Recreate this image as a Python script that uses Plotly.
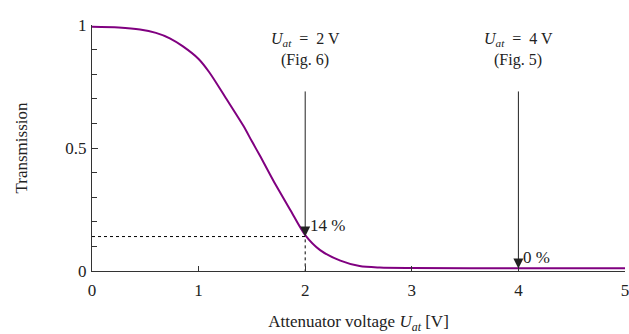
import plotly.graph_objects as go

# Data
u_vals = [0.0, 0.25, 0.45, 0.6, 0.73, 0.85, 1.0, 1.1, 1.26, 1.42, 1.5, 1.58, 1.67, 1.75,
          1.86, 2.0, 2.14, 2.33, 2.51, 2.7, 3.0, 4.0, 5.0]
t_vals = [0.993, 0.99, 0.982, 0.968, 0.946, 0.914, 0.862, 0.808, 0.7, 0.59, 0.527, 0.465,
          0.392, 0.33, 0.248, 0.146, 0.085, 0.042, 0.02, 0.014, 0.012, 0.011, 0.011]

marker_u = [2, 4]
marker_t = [0.14, 0.01]
marker_pct = ["14 %", "0 %"]
marker_fig = ["(Fig. 6)", "(Fig. 5)"]
arrow_start = 0.736
label_y1 = 0.94
label_y2 = 0.858

FONT = "Liberation Serif"
FS = 17
AX = "#333333"
TXT = "#222222"

fig = go.Figure()
fig.add_trace(go.Scatter(x=u_vals, y=t_vals, mode="lines",
                         line=dict(color="#800080", width=2, shape="spline", smoothing=0.8),
                         hoverinfo="skip", showlegend=False))

# dotted guide lines for 2 V
fig.add_trace(go.Scatter(x=[0, marker_u[0], marker_u[0]], y=[marker_t[0], marker_t[0], 0],
                         mode="lines", line=dict(color="black", width=1, dash="dot"),
                         showlegend=False, hoverinfo="skip"))

for u, t, pct, figref in zip(marker_u, marker_t, marker_pct, marker_fig):
    fig.add_annotation(x=u, y=t, ax=u, ay=arrow_start, xref="x", yref="y",
                       axref="x", ayref="y", showarrow=True, arrowhead=2,
                       arrowsize=2, arrowwidth=1, arrowcolor=TXT, text="")
    fig.add_annotation(x=u, y=t, xref="x", yref="y", text=pct, showarrow=False,
                       xanchor="left", yanchor="middle", xshift=3, yshift=11,
                       font=dict(family=FONT, size=FS, color=TXT))
    fig.add_annotation(x=u, y=label_y1, xref="x", yref="y",
                       text=f"<i>U</i><sub><i>at</i></sub>&nbsp;&nbsp;=&nbsp;&nbsp;{u} V",
                       showarrow=False, xanchor="center", yanchor="middle",
                       font=dict(family=FONT, size=16, color=TXT))
    fig.add_annotation(x=u, y=label_y2, xref="x", yref="y", text=figref,
                       showarrow=False, xanchor="center", yanchor="middle",
                       font=dict(family=FONT, size=16, color=TXT))

fig.update_layout(
    width=629, height=334,
    margin=dict(l=92, r=4, t=25, b=63, autoexpand=False),
    plot_bgcolor="white", paper_bgcolor="white",
    font=dict(family=FONT, size=FS, color=TXT),
    xaxis=dict(range=[0, 5], tickvals=[0, 1, 2, 3, 4, 5], ticks="inside", ticklen=5,
               tickcolor=AX, showline=True, linecolor=AX, linewidth=1, showgrid=False,
               zeroline=False, ticklabelstandoff=4, automargin=False,
               ticklabeloverflow="allow",
               title=dict(text="Attenuator voltage <i>U</i><sub><i>at</i></sub> [V]",
                          standoff=19, font=dict(family=FONT, size=FS))),
    yaxis=dict(range=[0, 1], tickvals=[0, 0.5, 1], ticktext=["0", "0.5", "1"],
               ticks="inside", ticklen=6, tickcolor=AX, showline=True, linecolor=AX,
               linewidth=1, showgrid=False, zeroline=False, ticklabelstandoff=1,
               automargin=False,
               minor=dict(dtick=0.1, ticks="inside", ticklen=5, tickcolor=AX, showgrid=False),
               title=dict(text="Transmission", standoff=33, font=dict(family=FONT, size=FS))),
)

fig.write_html("out.html", config={"displayModeBar": False},
               post_script="document.body.style.margin='0';")
